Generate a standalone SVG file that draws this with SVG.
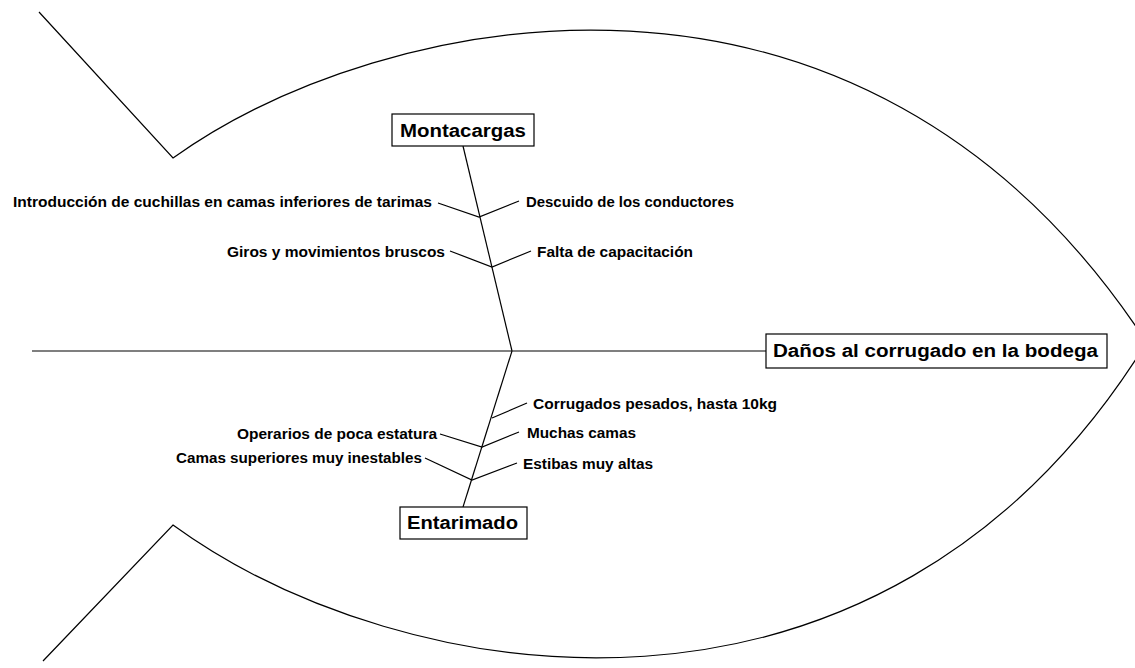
<svg xmlns="http://www.w3.org/2000/svg" width="1135" height="668" viewBox="0 0 1135 668">
  <style>
    .ln { fill: none; stroke: #000; stroke-width: 1.2; }
    .box { fill: #fff; stroke: #000; stroke-width: 1.2; }
    .lbl { font-family: "Liberation Sans", Arial, sans-serif; font-weight: bold; font-size: 14px; fill: #000; }
    .ttl { font-family: "Liberation Sans", Arial, sans-serif; font-weight: bold; font-size: 18px; fill: #000; }
  </style>
  <rect width="1135" height="668" fill="#fff"/>

  <!-- fish outline: tail strokes and body curves -->
  <g id="outline">
    <path class="ln" d="M39,12 L173,158 C380,10 860,-93 1145,340"/>
    <path class="ln" d="M43,661 L173,525 C400,690 880,770 1145,345"/>
  </g>

  <!-- spine and bones -->
  <g id="connectors">
    <line class="ln" x1="32" y1="351" x2="766" y2="351"/>
    <line class="ln" x1="463" y1="146" x2="512" y2="351"/>
    <line class="ln" x1="512" y1="351" x2="463" y2="507"/>
    <polyline class="ln" points="438,203 479,217 519,201"/>
    <polyline class="ln" points="450,251 492,267 531,251"/>
    <polyline class="ln" points="492,418 527,403"/>
    <polyline class="ln" points="440,434 482,447 519,432"/>
    <polyline class="ln" points="425,458 472,480 517,463"/>
  </g>

  <g id="effect">
    <rect class="box" x="766" y="334" width="341" height="34"/>
    <text class="ttl" x="773" y="357" textLength="325" lengthAdjust="spacingAndGlyphs">Daños al corrugado en la bodega</text>
  </g>

  <g id="montacargas">
    <rect class="box" x="392" y="114" width="142" height="32"/>
    <text class="ttl" x="400" y="137" textLength="126" lengthAdjust="spacingAndGlyphs">Montacargas</text>
  </g>

  <g id="entarimado">
    <rect class="box" x="400" y="507" width="127" height="32"/>
    <text class="ttl" x="407" y="529" textLength="111" lengthAdjust="spacingAndGlyphs">Entarimado</text>
  </g>

  <g id="cause-introduccion"><text class="lbl" x="13" y="207" textLength="419" lengthAdjust="spacingAndGlyphs">Introducción de cuchillas en camas inferiores de tarimas</text></g>
  <g id="cause-descuido"><text class="lbl" x="526" y="207" textLength="208" lengthAdjust="spacingAndGlyphs">Descuido de los conductores</text></g>
  <g id="cause-giros"><text class="lbl" x="227" y="257" textLength="218" lengthAdjust="spacingAndGlyphs">Giros y movimientos bruscos</text></g>
  <g id="cause-falta"><text class="lbl" x="537" y="257" textLength="156" lengthAdjust="spacingAndGlyphs">Falta de capacitación</text></g>
  <g id="cause-corrugados"><text class="lbl" x="533" y="409" textLength="244" lengthAdjust="spacingAndGlyphs">Corrugados pesados, hasta 10kg</text></g>
  <g id="cause-muchas"><text class="lbl" x="527" y="438" textLength="109" lengthAdjust="spacingAndGlyphs">Muchas camas</text></g>
  <g id="cause-operarios"><text class="lbl" x="237" y="439" textLength="200" lengthAdjust="spacingAndGlyphs">Operarios de poca estatura</text></g>
  <g id="cause-estibas"><text class="lbl" x="523" y="469" textLength="130" lengthAdjust="spacingAndGlyphs">Estibas muy altas</text></g>
  <g id="cause-camas"><text class="lbl" x="176" y="463" textLength="246" lengthAdjust="spacingAndGlyphs">Camas superiores muy inestables</text></g>
</svg>
